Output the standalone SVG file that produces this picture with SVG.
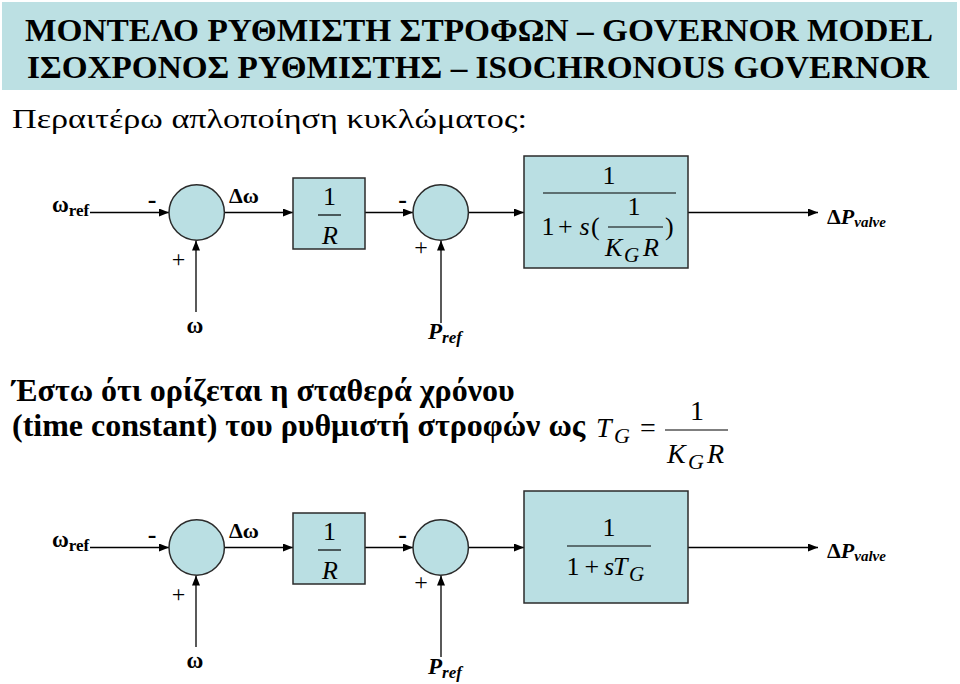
<svg xmlns="http://www.w3.org/2000/svg" width="960" height="684" viewBox="0 0 960 684" font-family="'Liberation Serif','Times New Roman',serif">
<style>
text{font-family:"Liberation Serif","Times New Roman",serif;fill:#000}
.b{font-weight:bold}
.i{font-style:italic}
.blk{fill:#BADFE3;stroke:#2b2b2b;stroke-width:1.5}
.ln{fill:none;stroke:#000;stroke-width:1.3}
.fr{stroke:#000;stroke-width:1.2}
.m{font-size:26px}
</style>
<defs>
<marker id="ah" markerUnits="userSpaceOnUse" markerWidth="10" markerHeight="8" refX="10" refY="4" orient="auto">
<path d="M0,0 L10,4 L0,8 Z" fill="#000"/>
</marker>
</defs>
<rect width="960" height="684" fill="#fff"/>
<g id="header">
<rect x="2" y="2" width="955" height="88" fill="#BCE0E3"/>
<text class="b" x="25" y="41" font-size="32" textLength="908" lengthAdjust="spacingAndGlyphs">ΜΟΝΤΕΛΟ ΡΥΘΜΙΣΤΗ ΣΤΡΟΦΩΝ – GOVERNOR MODEL</text>
<text class="b" x="27" y="78" font-size="32" textLength="902" lengthAdjust="spacingAndGlyphs">ΙΣΟΧΡΟΝΟΣ ΡΥΘΜΙΣΤΗΣ – ISOCHRONOUS GOVERNOR</text>
</g>
<text id="subtitle" x="12" y="128" font-size="27" textLength="515" lengthAdjust="spacingAndGlyphs">Περαιτέρω απλοποίηση κυκλώματος:</text>

<!-- Diagram 1 -->
<g id="connectors1">
<path class="ln" d="M90 212.5 H169" marker-end="url(#ah)"/>
<path class="ln" d="M224.5 212.5 H293" marker-end="url(#ah)"/>
<path class="ln" d="M365 212.5 H413" marker-end="url(#ah)"/>
<path class="ln" d="M468.5 212.5 H524" marker-end="url(#ah)"/>
<path class="ln" d="M688 212.5 H818" marker-end="url(#ah)"/>
<path class="ln" d="M196 312 V240.5" marker-end="url(#ah)"/>
<path class="ln" d="M441 323 V240.5" marker-end="url(#ah)"/>
</g>
<g id="in1">
<text class="b" x="52" y="212" font-size="23">ω<tspan font-size="17" dy="4">ref</tspan></text>
</g>
<g id="sum1a">
<circle class="blk" cx="196.7" cy="212.5" r="27.7"/>
<text class="b" x="152" y="208" font-size="26" text-anchor="middle">-</text>
<text x="178.5" y="267" font-size="24" text-anchor="middle">+</text>
<text class="b" x="229" y="203" font-size="22">Δω</text>
<text class="b" x="195" y="333" font-size="23" text-anchor="middle">ω</text>
</g>
<g id="gain1">
<rect class="blk" x="293" y="178" width="72" height="71"/>
<text class="m" x="329.5" y="205" text-anchor="middle">1</text>
<line class="fr" x1="318" y1="215" x2="341" y2="215"/>
<text class="m i" x="330" y="244" text-anchor="middle">R</text>
</g>
<g id="sum1b">
<circle class="blk" cx="440.7" cy="212.5" r="27.7"/>
<text class="b" x="402.5" y="208" font-size="26" text-anchor="middle">-</text>
<text x="421" y="255" font-size="24" text-anchor="middle">+</text>
<text class="b i" x="428" y="339" font-size="23">P<tspan font-size="17" dy="4">ref</tspan></text>
</g>
<g id="gov1">
<rect class="blk" x="524" y="156" width="164" height="112"/>
<text class="m" x="609" y="184" text-anchor="middle">1</text>
<line class="fr" x1="543" y1="193" x2="676" y2="193"/>
<text class="m" x="541.5" y="235">1</text>
<text class="m" x="558" y="235">+</text>
<text class="m i" x="579.5" y="235">s</text>
<text class="m" x="591" y="235">(</text>
<text class="m" x="634" y="215" text-anchor="middle">1</text>
<line class="fr" x1="608" y1="227" x2="663" y2="227"/>
<text class="m i" x="605" y="256">K</text>
<text class="i" x="624" y="262" font-size="21">G</text>
<text class="m i" x="643" y="256">R</text>
<text class="m" x="665" y="235">)</text>
</g>
<g id="out1">
<text class="b" x="827" y="224" font-size="22">Δ<tspan class="i">P</tspan><tspan class="i" font-size="15" dy="3">valve</tspan></text>
</g>

<!-- Text block -->
<g id="note">
<text class="b" x="12" y="401" font-size="32">Έστω ότι ορίζεται η σταθερά χρόνου</text>
<text class="b" x="12" y="436" font-size="32">(time constant) του ρυθμιστή στροφών ως</text>
<text class="i" x="596" y="437" font-size="28">T</text>
<text class="i" x="614" y="443" font-size="22">G</text>
<text x="640" y="437" font-size="28">=</text>
<text x="697" y="420" font-size="28" text-anchor="middle">1</text>
<line class="fr" x1="665" y1="430" x2="728" y2="430"/>
<text class="i" x="667" y="463" font-size="28">K</text>
<text class="i" x="688" y="469" font-size="22">G</text>
<text class="i" x="707" y="463" font-size="28">R</text>
</g>

<!-- Diagram 2 -->
<g id="connectors2">
<path class="ln" d="M90 547.5 H169" marker-end="url(#ah)"/>
<path class="ln" d="M224.5 547.5 H293" marker-end="url(#ah)"/>
<path class="ln" d="M365 547.5 H413" marker-end="url(#ah)"/>
<path class="ln" d="M468.5 547.5 H524" marker-end="url(#ah)"/>
<path class="ln" d="M688 547.5 H818" marker-end="url(#ah)"/>
<path class="ln" d="M196 647 V575.5" marker-end="url(#ah)"/>
<path class="ln" d="M441 657 V575.5" marker-end="url(#ah)"/>
</g>
<g id="in2">
<text class="b" x="52" y="547" font-size="23">ω<tspan font-size="17" dy="4">ref</tspan></text>
</g>
<g id="sum2a">
<circle class="blk" cx="196.7" cy="547.5" r="27.7"/>
<text class="b" x="152" y="543" font-size="26" text-anchor="middle">-</text>
<text x="178.5" y="602" font-size="24" text-anchor="middle">+</text>
<text class="b" x="229" y="538" font-size="22">Δω</text>
<text class="b" x="195" y="668" font-size="23" text-anchor="middle">ω</text>
</g>
<g id="gain2">
<rect class="blk" x="293" y="513" width="72" height="71"/>
<text class="m" x="329.5" y="540" text-anchor="middle">1</text>
<line class="fr" x1="318" y1="550" x2="341" y2="550"/>
<text class="m i" x="330" y="579" text-anchor="middle">R</text>
</g>
<g id="sum2b">
<circle class="blk" cx="440.7" cy="547.5" r="27.7"/>
<text class="b" x="402.5" y="543" font-size="26" text-anchor="middle">-</text>
<text x="421" y="590" font-size="24" text-anchor="middle">+</text>
<text class="b i" x="428" y="674" font-size="23">P<tspan font-size="17" dy="4">ref</tspan></text>
</g>
<g id="gov2">
<rect class="blk" x="524" y="491" width="164" height="112"/>
<text class="m" x="609" y="536" text-anchor="middle">1</text>
<line class="fr" x1="567" y1="546" x2="651" y2="546"/>
<text class="m" x="566.5" y="575">1</text>
<text class="m" x="584.5" y="575">+</text>
<text class="m i" x="604" y="575">s</text>
<text class="m i" x="613" y="575">T</text>
<text class="i" x="629" y="581" font-size="21">G</text>
</g>
<g id="out2">
<text class="b" x="827" y="558" font-size="22">Δ<tspan class="i">P</tspan><tspan class="i" font-size="15" dy="3">valve</tspan></text>
</g>
</svg>
